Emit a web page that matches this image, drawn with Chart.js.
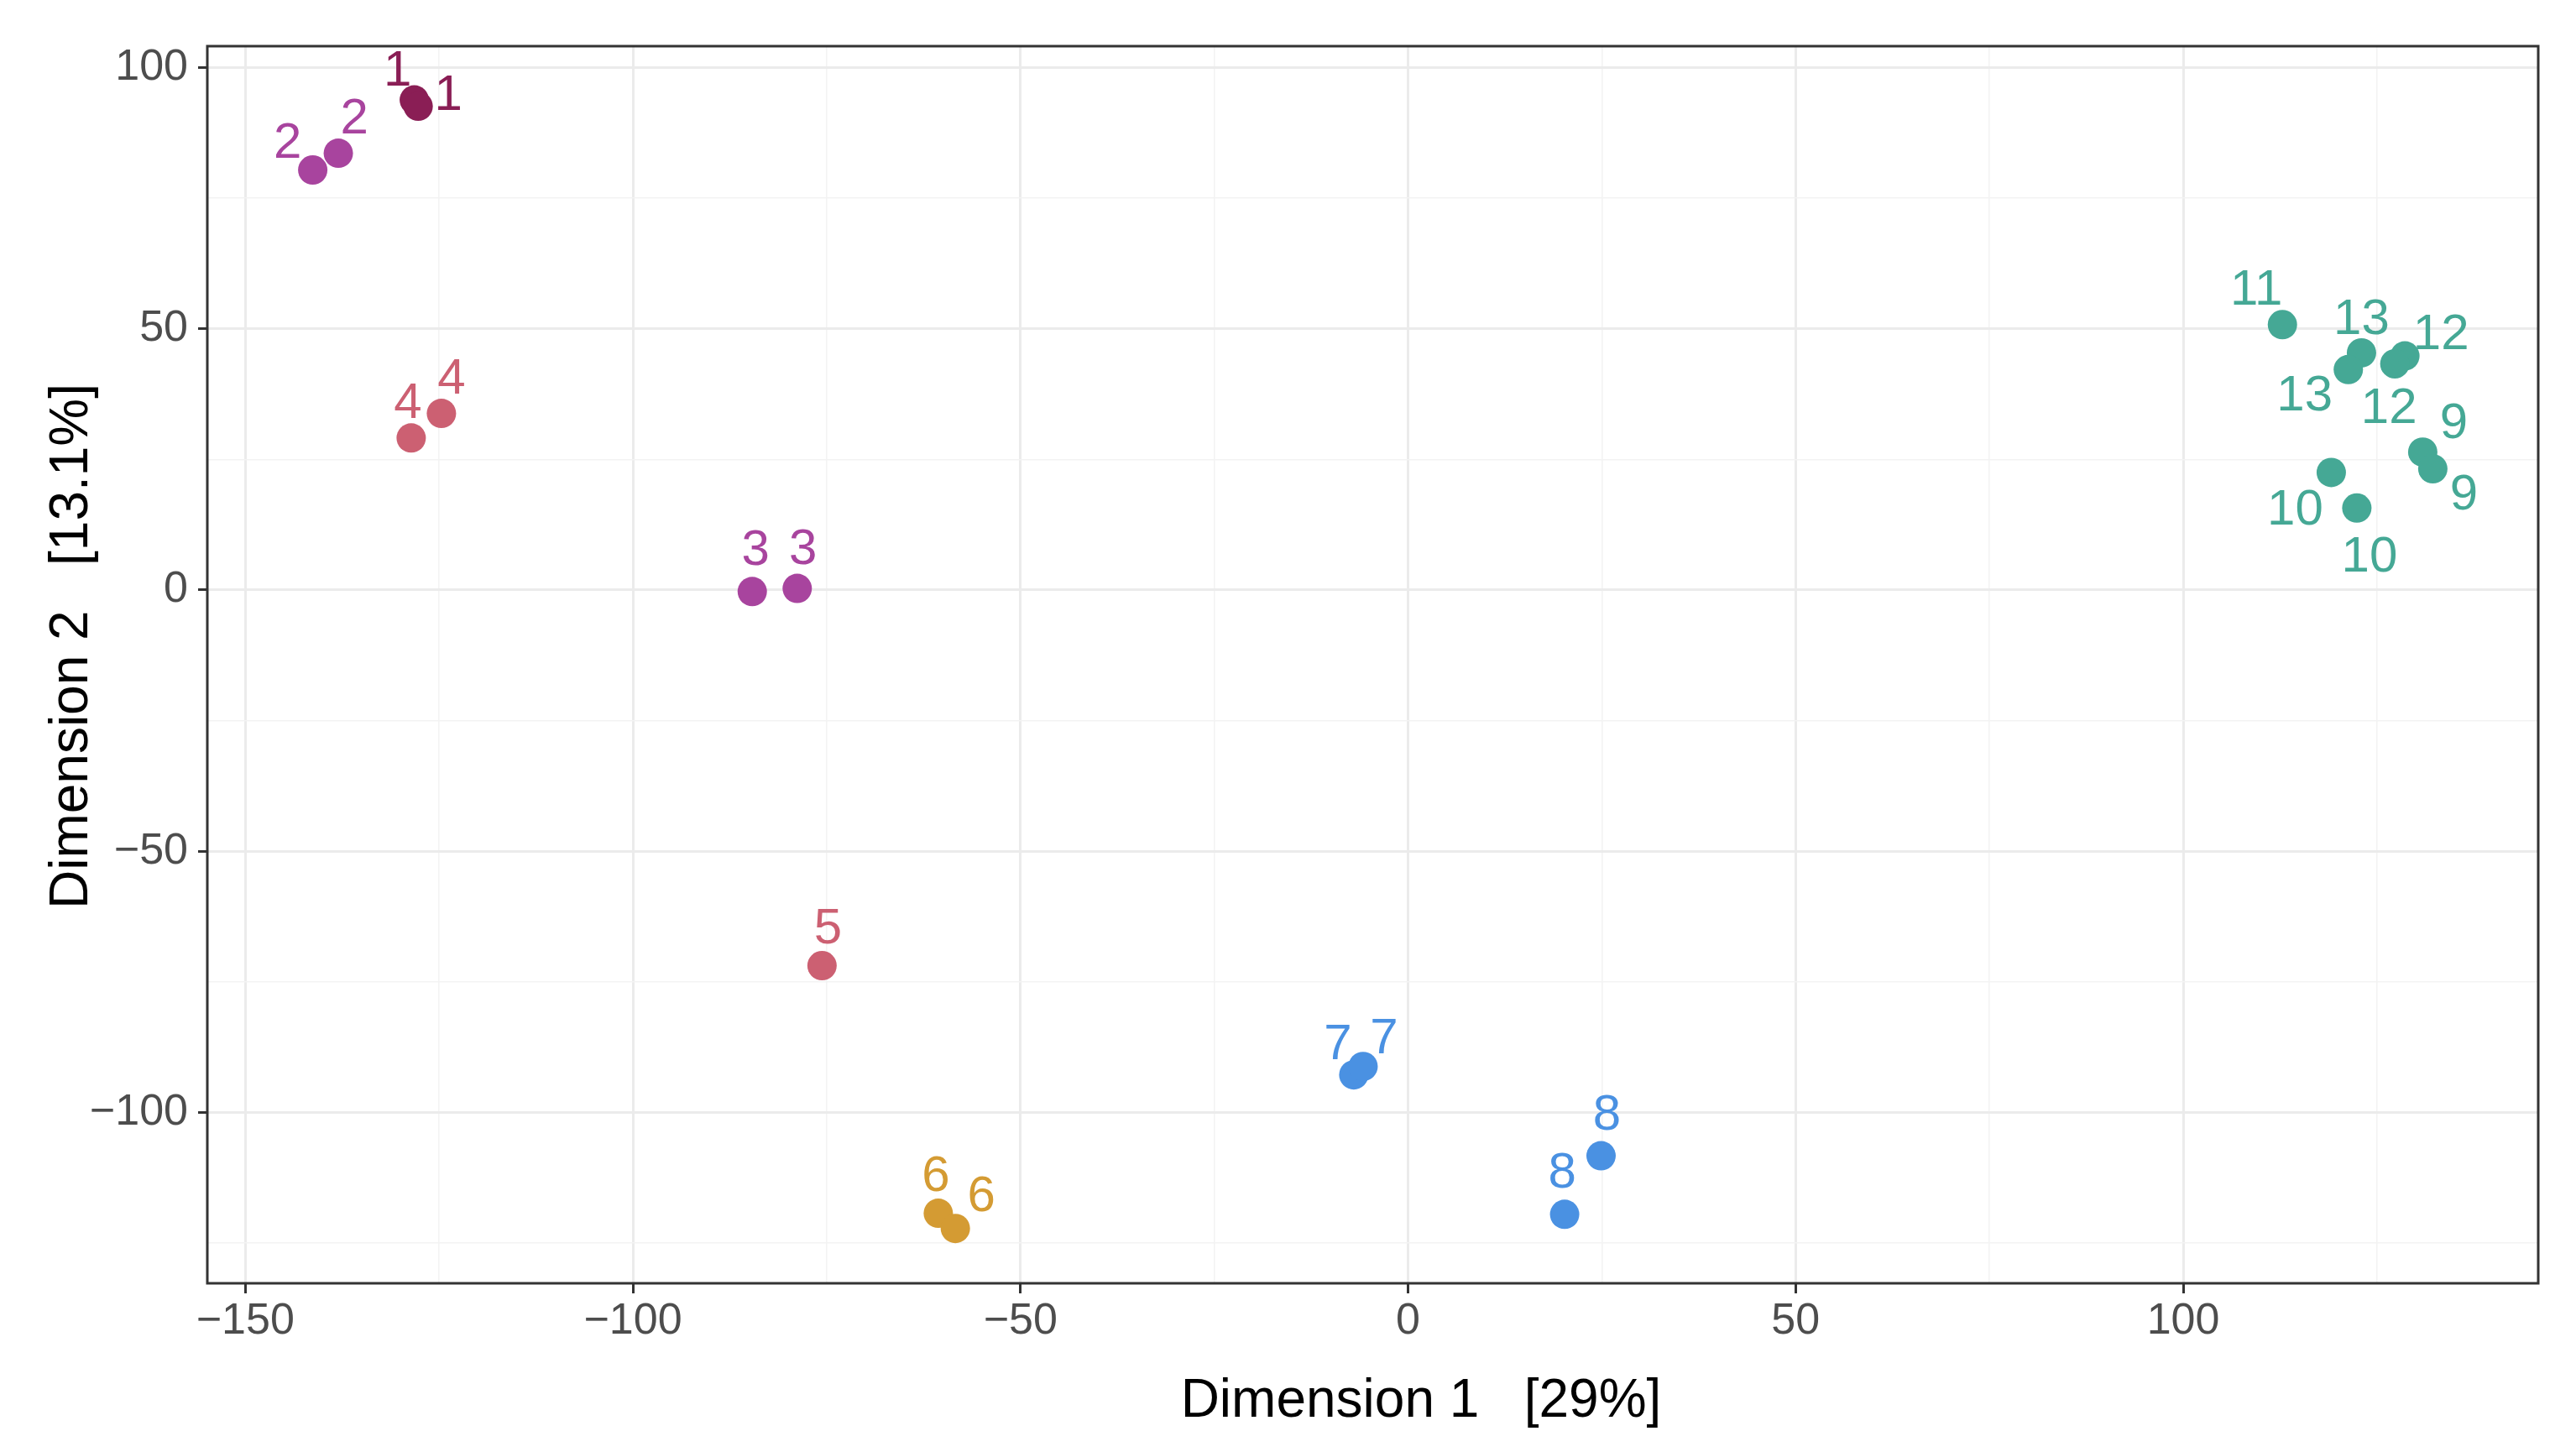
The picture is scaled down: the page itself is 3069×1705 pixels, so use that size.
<!DOCTYPE html>
<html>
<head>
<meta charset="utf-8">
<script src="https://cdn.jsdelivr.net/npm/chart.js@4/dist/chart.umd.min.js"></script>
<style>
  html, body { margin: 0; padding: 0; background: #ffffff; }
  canvas { display: block; background: #ffffff; }
</style>
</head>
<body>
<canvas id="mdsChart" width="3069" height="1705"></canvas>
<script>
// sample id for every point, and its coordinates on the two dimensions
const sampleIds = [1, 1, 2, 2, 3, 3, 4, 4, 5, 6, 6, 7, 7, 8, 8, 9, 9, 10, 10, 11, 12, 12, 13, 13];
const dim1 = [-128.2, -127.7, -141.3, -138.0, -84.6, -78.8, -128.6, -124.7, -75.6, -60.6, -58.4, -7.0, -5.8, 20.2, 24.9, 130.9, 132.2, 119.1, 122.4, 112.8, 128.6, 127.3, 123.0, 121.3];
const dim2 = [93.8, 92.6, 80.4, 83.6, -0.3, 0.3, 29.1, 33.8, -71.9, -119.3, -122.2, -92.8, -91.2, -119.5, -108.3, 26.4, 23.2, 22.5, 15.7, 50.8, 44.8, 43.3, 45.4, 42.2];

// colour of each sample id (index = id)
const idColors = [null, '#8A1E55', '#A8449E', '#A8449E', '#CC6072', '#CC6072', '#D49B33',
  '#4A91E2', '#4A91E2', '#45A895', '#45A895', '#45A895', '#45A895', '#45A895'];

// label offsets from the point, in pixels (repelled labels)
const labelDx = [-20, 36, -30, 19, 4, 7, -4, 12, 7, -3, 31, -19, 25, -3, 7, 37, 37, -43, 15, -31, 43, -7, 0, -52];
const labelDy = [-38, -17, -36, -45, -53, -50, -45, -45, -48, -48, -42, -40, -37, -53, -52, -38, 27, 41, 55, -45, -29, 50, -43, 28];

// axis ticks
const xMajor = [-150, -100, -50, 0, 50, 100];
const xMinor = [-125, -75, -25, 25, 75, 125];
const yMajor = [-100, -50, 0, 50, 100];
const yMinor = [-125, -75, -25, 25, 75];

const xTitle = 'Dimension 1   [29%]';
const yTitle = 'Dimension 2   [13.1%]';

const xTicks = xMajor.concat(xMinor).sort((a, b) => a - b);
const yTicks = yMajor.concat(yMinor).sort((a, b) => a - b);

const fontFamily = '"Liberation Sans", Arial, sans-serif';

const points = dim1.map((x, i) => ({ x: x, y: dim2[i] }));
const pointColors = sampleIds.map(id => idColors[id]);

// panel border like theme_bw
const panelBorder = {
  id: 'panelBorder',
  afterDraw(chart) {
    const { ctx, chartArea } = chart;
    ctx.save();
    ctx.strokeStyle = '#333333';
    ctx.lineWidth = 3;
    ctx.strokeRect(chartArea.left, chartArea.top, chartArea.right - chartArea.left, chartArea.bottom - chartArea.top);
    ctx.restore();
  }
};

// axis titles, placed like the original
const axisTitles = {
  id: 'axisTitles',
  afterDraw(chart) {
    const ctx = chart.ctx;
    ctx.save();
    ctx.font = '64px ' + fontFamily;
    ctx.fillStyle = '#000000';
    ctx.textAlign = 'center';
    ctx.textBaseline = 'middle';
    ctx.fillText(xTitle, 1693, 1670);
    ctx.translate(86, 770);
    ctx.rotate(-Math.PI / 2);
    ctx.fillText(yTitle, 0, 0);
    ctx.restore();
  }
};

// text labels next to the points
const pointLabels = {
  id: 'pointLabels',
  afterDatasetsDraw(chart) {
    const ctx = chart.ctx;
    const meta = chart.getDatasetMeta(0);
    ctx.save();
    ctx.font = '60px ' + fontFamily;
    ctx.textAlign = 'center';
    ctx.textBaseline = 'alphabetic';
    meta.data.forEach((el, i) => {
      ctx.fillStyle = pointColors[i];
      ctx.fillText(String(sampleIds[i]), el.x + labelDx[i], el.y + labelDy[i] + 21);
    });
    ctx.restore();
  }
};

function tickLabel(majors) {
  return function(value) {
    if (!majors.includes(value)) return '';
    return String(value).replace('-', '\u2212');
  };
}

function gridWidth(majors) {
  return ctx => (ctx.tick && majors.includes(ctx.tick.value)) ? 3 : 1.6;
}
function gridColor(majors) {
  return ctx => (ctx.tick && majors.includes(ctx.tick.value)) ? '#EBEBEB' : '#F3F3F3';
}
function tickColor(majors) {
  return ctx => (ctx.tick && majors.includes(ctx.tick.value)) ? '#333333' : 'rgba(0,0,0,0)';
}

new Chart(document.getElementById('mdsChart'), {
  type: 'scatter',
  data: {
    datasets: [{
      data: points,
      pointRadius: 17.5,
      pointHoverRadius: 17.5,
      pointBorderWidth: 0,
      pointBackgroundColor: pointColors,
      pointBorderColor: pointColors
    }]
  },
  options: {
    responsive: false,
    animation: false,
    events: [],
    layout: { padding: { top: 55, right: 45, left: 0, bottom: 0 } },
    plugins: {
      legend: { display: false },
      tooltip: { enabled: false }
    },
    scales: {
      x: {
        type: 'linear',
        min: -154.9,
        max: 145.8,
        afterBuildTicks: scale => { scale.ticks = xTicks.map(v => ({ value: v })); },
        afterFit: scale => { scale.height = 176; },
        border: { display: false },
        grid: {
          color: gridColor(xMajor),
          lineWidth: gridWidth(xMajor),
          tickColor: tickColor(xMajor),
          tickWidth: 3,
          tickLength: 12
        },
        ticks: {
          autoSkip: false,
          maxRotation: 0,
          padding: 2,
          color: '#4D4D4D',
          font: { family: fontFamily, size: 52 },
          callback: tickLabel(xMajor)
        },
        title: { display: false }
      },
      y: {
        type: 'linear',
        min: -132.7,
        max: 104.1,
        afterBuildTicks: scale => { scale.ticks = yTicks.map(v => ({ value: v })); },
        afterFit: scale => { scale.width = 247; },
        border: { display: false },
        grid: {
          color: gridColor(yMajor),
          lineWidth: gridWidth(yMajor),
          tickColor: tickColor(yMajor),
          tickWidth: 3,
          tickLength: 11
        },
        ticks: {
          autoSkip: false,
          padding: 12,
          color: '#4D4D4D',
          font: { family: fontFamily, size: 52 },
          callback: tickLabel(yMajor)
        },
        title: { display: false }
      }
    }
  },
  plugins: [panelBorder, pointLabels, axisTitles]
});
</script>
</body>
</html>
